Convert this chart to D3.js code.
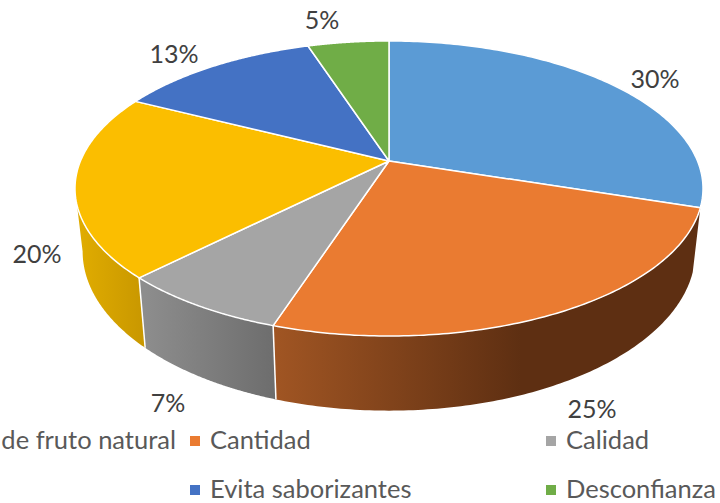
<!DOCTYPE html>
<html><head><meta charset="utf-8">
<script src="https://cdnjs.cloudflare.com/ajax/libs/d3/7.8.5/d3.min.js"></script>
<style>html,body{margin:0;padding:0;background:#fff;overflow:hidden}svg{display:block}text{font-family:Lato,"Open Sans",sans-serif}</style>
</head><body><svg id="c" width="720" height="503"></svg>
<script>
const categories = ["de fruto natural","Cantidad","Calidad","Evita saborizantes","Desconfianza"];
const sliceNames = ["de fruto natural","Cantidad","Calidad","Otros","Evita saborizantes","Desconfianza"];
const values = [30,25,7.4,20.1,12.5,5];
const labels = ["30%","25%","7%","20%","13%","5%"];
const topColors = ["#5b9bd5","#ea7b31","#a5a5a5","#fbbe00","#4472c4","#70ad47"];
const wallStops = {1:["#a05523","#5e2f12"],2:["#8d8d8d","#6d6d6d"],3:["#dfab00","#c89700"]};
const labelPlace = [[655,79],[592,409],[168,403],[37,254],[174,54],[322,20]];

const svg = d3.select("#c");
// perspective projection of the unit disc
const cx = 389, d = 308.5, a = 112.4, k = -0.1864, topB = 161, botB = 221.7, dBot = 301;
const proj = (th, bottom) => {
  const u = Math.sin(th), v = -Math.cos(th), den = 1 + k * v;
  return [cx + (bottom ? dBot : d) * u / den, (a * v + (bottom ? botB : topB)) / den];
};
const rim = (s, e, bottom) => d3.range(0, 121).map(i => proj(s + (e - s) * i / 120, bottom));
const pie = d3.pie().sort(null).value(v => v);
const arcs = pie(values);
const line = d3.line();
const defs = svg.append("defs");

const leftSil = d3.least(d3.range(180, 360, 0.25).map(x => x * Math.PI / 180), t => proj(t, false)[0]);

[1, 2, 3].forEach(i => {
  const s = arcs[i].startAngle, e = Math.min(arcs[i].endAngle, leftSil);
  const tp = rim(s, e, false), bt = rim(s, e, true);
  let x1, x2;
  if (i === 1) { x1 = proj(arcs[1].endAngle, true)[0]; x2 = x1 + 245; }
  else { x1 = proj(e, true)[0]; x2 = proj(s, true)[0]; }
  const id = "w" + i;
  const g = defs.append("linearGradient").attr("id", id).attr("gradientUnits", "userSpaceOnUse")
    .attr("x1", x1).attr("x2", x2).attr("y1", 0).attr("y2", 0);
  g.append("stop").attr("offset", 0).attr("stop-color", wallStops[i][0]);
  g.append("stop").attr("offset", 1).attr("stop-color", wallStops[i][1]);
  svg.append("path").attr("d", line(tp.concat(bt.slice().reverse())) + "Z").attr("fill", `url(#${id})`);
});
[arcs[1].endAngle, arcs[2].endAngle].forEach(t => {
  svg.append("path").attr("d", line([proj(t, false), proj(t, true)]))
    .attr("stroke", "#fff").attr("stroke-width", 1.5).attr("fill", "none");
});
arcs.forEach((p, i) => {
  const pts = [[cx, topB]].concat(rim(p.startAngle, p.endAngle, false));
  svg.append("path").attr("d", line(pts) + "Z").attr("fill", topColors[i])
    .attr("stroke", "#fff").attr("stroke-width", 1.5).attr("stroke-linejoin", "round");
});
svg.selectAll("text.l").data(labels).join("text").attr("class", "l")
  .attr("x", (t, i) => labelPlace[i][0]).attr("y", (t, i) => labelPlace[i][1] + 9)
  .attr("text-anchor", "middle").attr("font-size", 25).attr("fill", "#404040").text(t => t);
const legendRows = [
  {t: categories[0], c: null, tx: 176, y: 440, anchor: "end"},
  {t: categories[1], c: topColors[1], tx: 210, y: 440},
  {t: categories[2], c: topColors[2], tx: 566, y: 440},
  {t: categories[3], c: topColors[4], tx: 210, y: 489},
  {t: categories[4], c: topColors[5], tx: 566, y: 489}
];
legendRows.forEach(r => {
  if (r.c) svg.append("rect").attr("x", r.tx - 20).attr("y", r.y - 4).attr("width", 10).attr("height", 10).attr("fill", r.c);
  svg.append("text").attr("x", r.tx).attr("y", r.y + 9).attr("text-anchor", r.anchor || "start")
    .attr("font-size", 25.5).attr("fill", "#595959").text(r.t);
});
</script></body></html>
